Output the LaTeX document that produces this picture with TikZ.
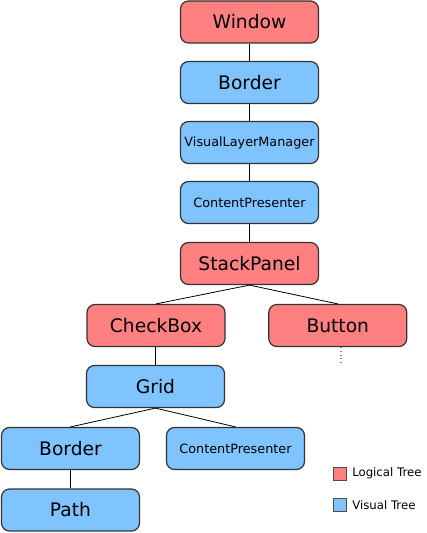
\documentclass[tikz,border=0pt]{standalone}
\usepackage{fontspec}
\setmainfont{DejaVu Sans}
\definecolor{rosso}{RGB}{255,128,128}
\definecolor{azzurro}{RGB}{128,196,255}
\tikzset{
  nodo/.style={draw=black!80, line width=0.9pt, rounded corners=6pt,
    minimum width=103.5pt, minimum height=31.5pt, inner sep=0pt},
  logtree/.style={nodo, fill=rosso, font=\fontsize{14}{16}\selectfont},
  vistree/.style={nodo, fill=azzurro, font=\fontsize{14}{16}\selectfont},
  vispiccolo/.style={nodo, fill=azzurro, font=\fontsize{9.6}{11}\selectfont},
  ramo/.style={line width=0.6pt},
  quadrato/.style={draw=black!70, line width=0.5pt, minimum size=10pt, inner sep=0pt},
  voce/.style={anchor=west, inner sep=0pt, font=\fontsize{8.8}{10}\selectfont}
}
\begin{document}
\begin{tikzpicture}[x=0.75pt, y=-0.75pt]
    \useasboundingbox (0,0) rectangle (427,533);

    % Nodi
    \node[logtree] (window) at (249.5,22) {Window};
    \node[vistree] (border) at (249.5,82.5) {Border};
    \node[vispiccolo] (vlm) at (249.5,142.5) {VisualLayerManager};
    \node[vispiccolo] (cp) at (249.5,202.5) {ContentPresenter};
    \node[logtree] (stack) at (249.5,263.5) {StackPanel};
    \node[logtree] (check) at (156,325.5) {CheckBox};
    \node[logtree] (button) at (337.8,325.5) {Button};
    \node[vistree] (grid) at (155.5,386.5) {Grid};
    \node[vistree] (border2) at (70.5,448.5) {Border};
    \node[vispiccolo] (cp2) at (235.5,448.5) {ContentPresenter};
    \node[vistree] (path) at (70.5,510) {Path};

    % Rami
    \draw[ramo] (window) -- (border);
    \draw[ramo] (border) -- (vlm);
    \draw[ramo] (vlm) -- (cp);
    \draw[ramo] (cp) -- (stack);
    \draw[ramo] (stack.south) -- (check.north);
    \draw[ramo] (stack.south) -- (button.north);
    \draw[ramo] (grid.north) -- (grid.north |- check.south);
    \draw[ramo] (grid.south) -- (border2.north);
    \draw[ramo] (grid.south) -- (cp2.north);
    \draw[ramo] (border2) -- (path);

    % Altri figli
    \coordinate (altri) at (341,365);
    \draw[gray, line width=0.8pt, dotted] (button.south -| altri) -- (altri);

    % Legenda
    \node[quadrato, fill=rosso] (leglog) at (340,473.5) {};
    \node[voce] (testolog) at (352,473.5) {Logical Tree};
    \node[quadrato, fill=azzurro] (legvis) at (340,505) {};
    \node[voce] (testovis) at (352,505) {Visual Tree};

\end{tikzpicture}
\end{document}
